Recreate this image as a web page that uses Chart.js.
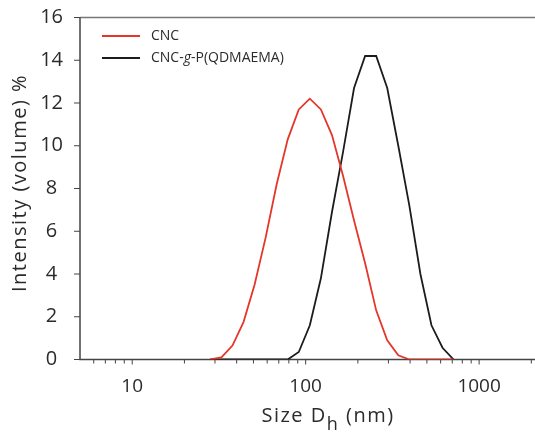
<!DOCTYPE html>
<html>
<head>
<meta charset="utf-8">
<script src="https://cdn.jsdelivr.net/npm/chart.js@4.4.0/dist/chart.umd.min.js"></script>
<style>
  html, body { margin: 0; padding: 0; background: #fff; overflow: hidden; }
  #wrap { width: 535px; height: 432px; }
  canvas { display: block; }
</style>
</head>
<body>
<div id="wrap"><canvas id="chart"></canvas></div>
<script>
// hydrodynamic size bins (nm) and volume intensity (%)
const sizes = [28.21, 32.67, 37.84, 43.82, 50.75, 58.77, 68.06, 78.82, 91.28, 105.7, 122.4, 141.8,
    164.2, 190.1, 220.2, 255.0, 295.3, 342.0, 396.1, 458.7, 531.2, 615.1, 712.4];
const cnc = [0, 0.1, 0.65, 1.75, 3.5, 5.7, 8.2, 10.3, 11.7, 12.2, 11.7, 10.5,
    8.6, 6.5, 4.5, 2.3, 0.9, 0.2, 0, 0, 0, 0, 0];
const graft = [0, 0, 0, 0, 0, 0, 0, 0, 0.35, 1.6, 3.8, 6.9,
    9.7, 12.7, 14.2, 14.2, 12.7, 10.0, 7.2, 4.0, 1.6, 0.55, 0];

const seriesNames = ['CNC', 'CNC-g-P(QDMAEMA)'];
const seriesColors = ['#e5362a', '#1c1c1c'];

const xLabels = [10, 100, 1000];
const xMinor = [6, 7, 8, 9, 20, 30, 40, 50, 60, 70, 80, 90, 200, 300, 400, 500, 600, 700, 800, 900, 2000];
const yLabels = [0, 2, 4, 6, 8, 10, 12, 14, 16];

const xTitle = ['Size D', 'h', ' (nm)'];
const yTitle = 'Intensity (volume) %';

const axisColor = '#444';
const textColor = '#2b2b2b';
const fontFamily = "'Open Sans', sans-serif";

const frame = {
    id: 'frame',
    beforeDatasetsDraw(chart) {
        const {ctx, chartArea: a, scales: {x, y}} = chart;
        ctx.save();
        ctx.lineWidth = 1.5;
        ctx.strokeStyle = '#777';
        ctx.beginPath();
        ctx.moveTo(a.left, a.top);
        ctx.lineTo(a.right, a.top);
        ctx.stroke();
        ctx.strokeStyle = axisColor;
        ctx.beginPath();
        ctx.moveTo(a.left, a.top);
        ctx.lineTo(a.left, a.bottom);
        ctx.lineTo(a.right, a.bottom);
        ctx.stroke();

        ctx.lineWidth = 1;
        ctx.beginPath();
        x.ticks.forEach(t => {
            const px = x.getPixelForValue(t.value);
            if (px < a.left + 1 || px > a.right) return;
            const len = xLabels.includes(t.value) ? 5 : 4;
            ctx.moveTo(px, a.bottom);
            ctx.lineTo(px, a.bottom + len);
        });
        y.ticks.forEach(t => {
            const py = y.getPixelForValue(t.value);
            const len = yLabels.includes(t.value) ? 6 : 4;
            ctx.moveTo(a.left, py);
            ctx.lineTo(a.left - len, py);
        });
        ctx.stroke();
        ctx.restore();
    },
    afterDraw(chart) {
        const {ctx} = chart;
        ctx.save();
        ctx.fillStyle = textColor;

        // legend
        ctx.textBaseline = 'middle';
        seriesNames.forEach((name, i) => {
            const ly = 36 + i * 22;
            ctx.strokeStyle = seriesColors[i];
            ctx.lineWidth = 2;
            ctx.beginPath();
            ctx.moveTo(102, ly);
            ctx.lineTo(140, ly);
            ctx.stroke();
            let tx = 151;
            const parts = name.split('-g-');
            if (parts.length === 2) {
                const segs = [[parts[0] + '-', false], ['g', true], ['-' + parts[1], false]];
                segs.forEach(([s, it]) => {
                    ctx.font = (it ? 'italic ' : '') + '14px ' + fontFamily;
                    ctx.fillText(s, tx, ly);
                    tx += ctx.measureText(s).width;
                });
            } else {
                ctx.font = '14px ' + fontFamily;
                ctx.fillText(name, tx, ly);
            }
        });

        // x title with subscript
        ctx.textBaseline = 'alphabetic';
        ctx.letterSpacing = '1.5px';
        ctx.font = '20px ' + fontFamily;
        const w0 = ctx.measureText(xTitle[0]).width;
        const w2 = ctx.measureText(xTitle[2]).width;
        ctx.font = '18px ' + fontFamily;
        const w1 = ctx.measureText(xTitle[1]).width;
        let tx = 328 - (w0 + w1 + w2) / 2;
        ctx.font = '20px ' + fontFamily;
        ctx.fillText(xTitle[0], tx, 422);
        tx += w0;
        ctx.font = '18px ' + fontFamily;
        ctx.fillText(xTitle[1], tx, 430);
        tx += w1;
        ctx.font = '20px ' + fontFamily;
        ctx.fillText(xTitle[2], tx, 422);

        // y title
        ctx.translate(20, 183);
        ctx.rotate(-Math.PI / 2);
        ctx.textAlign = 'center';
        ctx.textBaseline = 'middle';
        ctx.letterSpacing = '1.5px';
        ctx.font = '20px ' + fontFamily;
        ctx.fillText(yTitle, 0, 0);
        ctx.restore();
    }
};

const data = {
    datasets: [
        {
            label: seriesNames[0],
            data: sizes.map((s, i) => ({x: s, y: cnc[i]})),
            borderColor: seriesColors[0],
            backgroundColor: seriesColors[0],
        },
        {
            label: seriesNames[1],
            data: sizes.map((s, i) => ({x: s, y: graft[i]})),
            borderColor: seriesColors[1],
            backgroundColor: seriesColors[1],
        }
    ]
};

const options = {
    responsive: true,
    maintainAspectRatio: false,
    animation: false,
    layout: {
        padding: {top: 17.5, left: 0, right: 0, bottom: 0}
    },
    elements: {
        point: {radius: 0},
        line: {borderWidth: 1.8, tension: 0}
    },
    plugins: {
        legend: {display: false},
        tooltip: {enabled: false}
    },
    scales: {
        x: {
            type: 'logarithmic',
            min: 5,
            max: 2100,
            grid: {display: false},
            border: {display: false},
            afterBuildTicks: s => {
                s.ticks = xLabels.concat(xMinor).sort((a, b) => a - b).map(v => ({value: v}));
            },
            afterFit: s => {
                s.height = 72.5;
                s.paddingLeft = 0;
                s.paddingRight = 0;
            },
            ticks: {
                autoSkip: false,
                maxRotation: 0,
                padding: 8,
                color: textColor,
                font: {family: fontFamily, size: 19},
                callback: v => xLabels.includes(v) ? String(v) : ''
            }
        },
        y: {
            min: 0,
            max: 16,
            grid: {display: false},
            border: {display: false},
            afterFit: s => {
                s.width = 80;
                s.paddingTop = 0;
                s.paddingBottom = 0;
            },
            ticks: {
                stepSize: 1,
                padding: 9,
                crossAlign: 'center',
                color: textColor,
                font: {family: fontFamily, size: 20},
                callback: v => yLabels.includes(v) ? String(v) : ''
            }
        }
    }
};

const chart = new Chart(
    document.getElementById('chart'),
    {type: 'line', data: data, options: options, plugins: [frame]}
);
</script>
</body>
</html>
